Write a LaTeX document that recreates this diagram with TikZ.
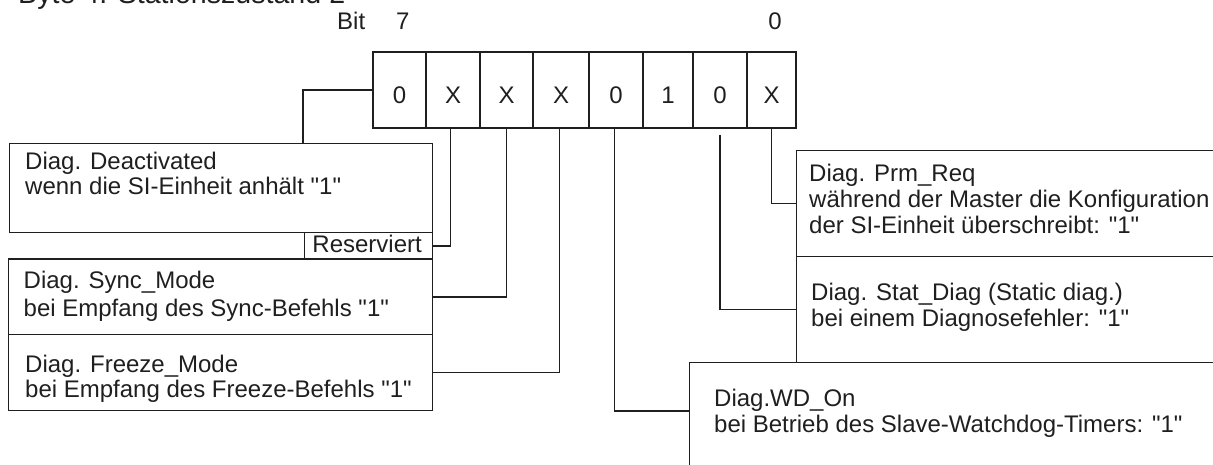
\documentclass[tikz,border=0pt]{standalone}
\usepackage{fontspec}
\setmainfont{Liberation Sans}
% straight double quote, set as a glyph so no ligature mapping curls it
\newcommand\dquote{\XeTeXglyph\XeTeXcharglyph34\relax}
\begin{document}
\begin{tikzpicture}[x=1pt,y=-1pt,
  ink/.style={draw=black!88, line width=1.4pt},
  cell/.style={ink, inner sep=0pt, minimum height=76pt, text height=26.6pt, text depth=0pt,
    font=\fontsize{24}{26}\selectfont, text=black!88},
  box/.style={ink, anchor=north west, inner sep=0pt},
  txt/.style={anchor=base west, inner sep=0pt, font=\fontsize{24}{26}\selectfont, text=black!88},
  wire/.style={draw=black!88, line width=1.4pt}]
\useasboundingbox (0,0) rectangle (1213,465);
\clip (0,0) rectangle (1213,465);

% heading and bit numbering
\node[txt, font=\fontsize{28.6}{30}\selectfont] (title) at (18,4) {Byte 4: Stationszustand 2};
\node[txt] (bitlbl) at (337,30) {Bit};
\node[txt, anchor=base] (msb) at (402.7,30) {7};
\node[txt, anchor=base] (lsb) at (775,30) {0};

% the eight bit cells, bit 7 on the left
\node[cell, minimum width=53pt] (c7) at (399.5,90) {0};
\node[cell, minimum width=54pt] (c6) at (453,90) {X};
\node[cell, minimum width=53pt] (c5) at (506.5,90) {X};
\node[cell, minimum width=56pt] (c4) at (561,90) {X};
\node[cell, minimum width=54pt] (c3) at (616,90) {0};
\node[cell, minimum width=50pt] (c2) at (668,90) {1};
\node[cell, minimum width=54pt] (c1) at (720,90) {0};
\node[cell, minimum width=49pt] (c0) at (771.5,90) {X};

% description boxes, left column
\node[box, minimum width=423pt, minimum height=89pt] (deact) at (9,143) {};
\node[box, minimum width=128pt, minimum height=26.5pt] (resv) at (304,232) {};
\node[box, minimum width=424pt, minimum height=75.5pt] (sync) at (8,258.5) {};
\node[box, minimum width=424pt, minimum height=76pt] (frz) at (8,334) {};

% description boxes, right column (running off to the right)
\node[box, minimum width=440pt, minimum height=106pt] (prm) at (796,150) {};
\node[box, minimum width=440pt, minimum height=106pt] (stat) at (796,256) {};
\node[box, minimum width=540pt, minimum height=130pt] (wd) at (689,362) {};

% box texts
\node[txt] (t7a) at (25,170) {Diag. Deactivated};
\node[txt] (t7b) at (25,195) {wenn die SI-Einheit anhält \dquote1\dquote};
\node[txt, anchor=base east] (t6) at (422,252) {Reserviert};
\node[txt] (t5a) at (23.5,288) {Diag. Sync\_Mode};
\node[txt] (t5b) at (23.5,316) {bei Empfang des Sync-Befehls \dquote1\dquote};
\node[txt] (t4a) at (25,372) {Diag. Freeze\_Mode};
\node[txt] (t4b) at (25,397) {bei Empfang des Freeze-Befehls \dquote1\dquote};
\node[txt] (t0a) at (809,182) {Diag. Prm\_Req};
\node[txt] (t0b) at (809,208) {während der Master die Konfiguration};
\node[txt] (t0c) at (809,234) {der SI-Einheit überschreibt: \dquote1\dquote};
\node[txt] (t1a) at (811,300) {Diag. Stat\_Diag (Static diag.)};
\node[txt] (t1b) at (811,326) {bei einem Diagnosefehler: \dquote1\dquote};
\node[txt] (t3a) at (714,406) {Diag.WD\_On};
\node[txt] (t3b) at (714,432) {bei Betrieb des Slave-Watchdog-Timers: \dquote1\dquote};

% connector end points on box edges
\coordinate (d7) at (303,143);
\coordinate (wdin) at (689,411);

% connectors from the bits to their descriptions
\draw[wire] (c7.west) -| (d7);
\draw[wire] ([xshift=-2.3pt]c6.south) |- (resv.east);
\draw[wire] (c5.south) |- (sync.east);
\draw[wire] ([xshift=-1.5pt]c4.south) |- (frz.east);
\draw[wire] ([xshift=-1.7pt]c3.south) |- (wdin);
\draw[wire] ([yshift=-6pt]c1.south) |- (stat.west);
\draw[wire] (c0.south) |- (prm.west);
\end{tikzpicture}
\end{document}
